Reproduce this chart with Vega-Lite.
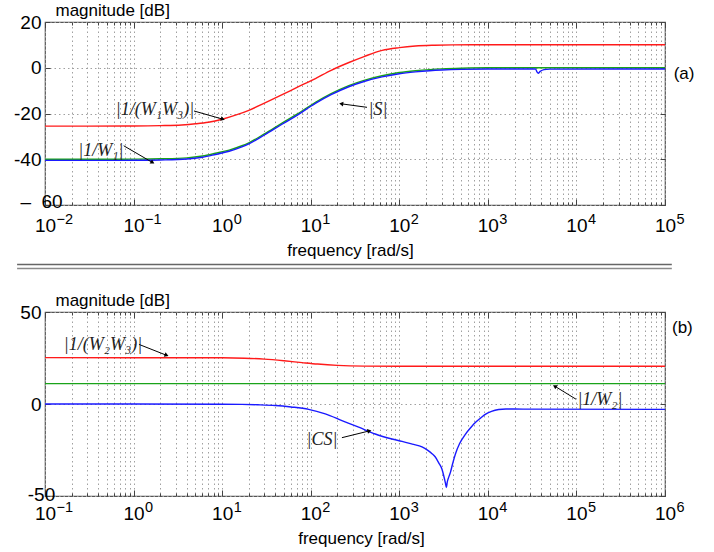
{
  "$schema": "https://vega.github.io/schema/vega-lite/v6.json",
  "background": "white",
  "padding": {"left": 12, "top": 0, "right": 0, "bottom": 0},
  "spacing": 43.5,
  "bounds": "flush",
  "resolve": {"scale": {"color": "independent"}},
  "config": {
    "font": "Liberation Sans",
    "view": {"stroke": "#555555", "strokeWidth": 1.2},
    "axis": {
      "labelFont": "Liberation Sans", "labelColor": "#000000", "labelFontSize": 19,
      "titleFont": "Liberation Sans", "titleFontSize": 17, "titleFontWeight": "normal", "titleColor": "#000000",
      "domain": false, "gridColor": "#a0a0a0", "gridDash": [1.5, 3], "gridWidth": 1,
      "tickColor": "#444444", "tickWidth": 1, "labelOverlap": false, "labelBound": false, "labelFlush": false
    },
    "text": {"font": "Liberation Serif", "fontSize": 18}
  },
  "datasets": {
    "curvesA": [
      {"s": "W1W3", "w": 0.01, "v": -25.5}, {"s": "W1W3", "w": 0.03, "v": -25.5}, {"s": "W1W3", "w": 0.1, "v": -25.45},
      {"s": "W1W3", "w": 0.2, "v": -25.3}, {"s": "W1W3", "w": 0.35, "v": -25.0}, {"s": "W1W3", "w": 0.5, "v": -24.5},
      {"s": "W1W3", "w": 0.7, "v": -23.8}, {"s": "W1W3", "w": 1, "v": -22.5}, {"s": "W1W3", "w": 1.5, "v": -20.4},
      {"s": "W1W3", "w": 2, "v": -18.6}, {"s": "W1W3", "w": 3, "v": -15.5}, {"s": "W1W3", "w": 4.7, "v": -11.9},
      {"s": "W1W3", "w": 7, "v": -8.6}, {"s": "W1W3", "w": 11.3, "v": -4.7}, {"s": "W1W3", "w": 17, "v": -1.1},
      {"s": "W1W3", "w": 27, "v": 2.3}, {"s": "W1W3", "w": 40, "v": 4.9}, {"s": "W1W3", "w": 64, "v": 7.6},
      {"s": "W1W3", "w": 100, "v": 8.8}, {"s": "W1W3", "w": 152, "v": 9.5}, {"s": "W1W3", "w": 250, "v": 9.85},
      {"s": "W1W3", "w": 400, "v": 10.0}, {"s": "W1W3", "w": 1000, "v": 10.05}, {"s": "W1W3", "w": 100000, "v": 10.05},
      {"s": "W1", "w": 0.01, "v": -40}, {"s": "W1", "w": 0.05, "v": -40}, {"s": "W1", "w": 0.1, "v": -39.95},
      {"s": "W1", "w": 0.2, "v": -39.8}, {"s": "W1", "w": 0.4, "v": -39.4}, {"s": "W1", "w": 0.6, "v": -38.6},
      {"s": "W1", "w": 0.84, "v": -37.4}, {"s": "W1", "w": 1.2, "v": -36.0}, {"s": "W1", "w": 1.67, "v": -34.1},
      {"s": "W1", "w": 2, "v": -32.8}, {"s": "W1", "w": 3, "v": -28.9}, {"s": "W1", "w": 4.74, "v": -24.2},
      {"s": "W1", "w": 7, "v": -20.3}, {"s": "W1", "w": 11.3, "v": -15.1}, {"s": "W1", "w": 17, "v": -11.3},
      {"s": "W1", "w": 26.9, "v": -7.8}, {"s": "W1", "w": 40, "v": -5.5}, {"s": "W1", "w": 63.8, "v": -3.5},
      {"s": "W1", "w": 100, "v": -2.1}, {"s": "W1", "w": 152, "v": -1.3}, {"s": "W1", "w": 220, "v": -0.8},
      {"s": "W1", "w": 303, "v": -0.5}, {"s": "W1", "w": 500, "v": -0.2}, {"s": "W1", "w": 1000, "v": 0},
      {"s": "W1", "w": 100000, "v": 0},
      {"s": "S", "w": 0.01, "v": -40.5}, {"s": "S", "w": 0.05, "v": -40.5}, {"s": "S", "w": 0.1, "v": -40.45},
      {"s": "S", "w": 0.2, "v": -40.3}, {"s": "S", "w": 0.4, "v": -39.9}, {"s": "S", "w": 0.6, "v": -39.1},
      {"s": "S", "w": 0.84, "v": -37.9}, {"s": "S", "w": 1.2, "v": -36.5}, {"s": "S", "w": 1.67, "v": -34.6},
      {"s": "S", "w": 2, "v": -33.3}, {"s": "S", "w": 3, "v": -29.4}, {"s": "S", "w": 4.74, "v": -24.7},
      {"s": "S", "w": 7, "v": -20.8}, {"s": "S", "w": 11.3, "v": -15.6}, {"s": "S", "w": 17, "v": -11.8},
      {"s": "S", "w": 26.9, "v": -8.3}, {"s": "S", "w": 40, "v": -6.0}, {"s": "S", "w": 63.8, "v": -4.0},
      {"s": "S", "w": 100, "v": -2.6}, {"s": "S", "w": 152, "v": -1.8}, {"s": "S", "w": 220, "v": -1.3},
      {"s": "S", "w": 303, "v": -1.0}, {"s": "S", "w": 500, "v": -0.7}, {"s": "S", "w": 1000, "v": -0.55},
      {"s": "S", "w": 3450, "v": -0.55}, {"s": "S", "w": 3600, "v": -1.9}, {"s": "S", "w": 3700, "v": -2.4},
      {"s": "S", "w": 3900, "v": -1.6}, {"s": "S", "w": 4300, "v": -0.8}, {"s": "S", "w": 5000, "v": -0.6},
      {"s": "S", "w": 100000, "v": -0.55}
    ],
    "curvesB": [
      {"s": "W2W3", "w": 0.1, "v": 25.2}, {"s": "W2W3", "w": 10, "v": 25.1}, {"s": "W2W3", "w": 18, "v": 24.9},
      {"s": "W2W3", "w": 30, "v": 24.4}, {"s": "W2W3", "w": 50, "v": 23.5}, {"s": "W2W3", "w": 80, "v": 22.5},
      {"s": "W2W3", "w": 120, "v": 21.7}, {"s": "W2W3", "w": 200, "v": 21.0}, {"s": "W2W3", "w": 400, "v": 20.6},
      {"s": "W2W3", "w": 1000, "v": 20.5}, {"s": "W2W3", "w": 1000000, "v": 20.5},
      {"s": "W2", "w": 0.1, "v": 11.1}, {"s": "W2", "w": 1000000, "v": 11.1},
      {"s": "CS", "w": 0.1, "v": 0}, {"s": "CS", "w": 1, "v": 0}, {"s": "CS", "w": 10, "v": -0.1},
      {"s": "CS", "w": 16.7, "v": -0.2}, {"s": "CS", "w": 25, "v": -0.4}, {"s": "CS", "w": 39.8, "v": -0.8},
      {"s": "CS", "w": 60, "v": -1.6}, {"s": "CS", "w": 94.8, "v": -2.9}, {"s": "CS", "w": 146, "v": -5.4},
      {"s": "CS", "w": 225, "v": -9.0}, {"s": "CS", "w": 348, "v": -12.6}, {"s": "CS", "w": 535, "v": -16.3},
      {"s": "CS", "w": 827, "v": -19.0}, {"s": "CS", "w": 1074, "v": -20.3}, {"s": "CS", "w": 1400, "v": -21.8},
      {"s": "CS", "w": 1806, "v": -23.3}, {"s": "CS", "w": 2100, "v": -25.2}, {"s": "CS", "w": 2344, "v": -27.0},
      {"s": "CS", "w": 2553, "v": -28.8}, {"s": "CS", "w": 2788, "v": -32.0}, {"s": "CS", "w": 3034, "v": -35.5},
      {"s": "CS", "w": 3175, "v": -39.0}, {"s": "CS", "w": 3320, "v": -43.0}, {"s": "CS", "w": 3400, "v": -45.4},
      {"s": "CS", "w": 3480, "v": -42.5}, {"s": "CS", "w": 3600, "v": -40.0}, {"s": "CS", "w": 3770, "v": -37.3},
      {"s": "CS", "w": 4000, "v": -32.5}, {"s": "CS", "w": 4294, "v": -27.3}, {"s": "CS", "w": 4800, "v": -21.5},
      {"s": "CS", "w": 5570, "v": -16.5}, {"s": "CS", "w": 6500, "v": -12.5}, {"s": "CS", "w": 7220, "v": -10.1},
      {"s": "CS", "w": 8300, "v": -7.6}, {"s": "CS", "w": 9350, "v": -5.6}, {"s": "CS", "w": 11000, "v": -4.0},
      {"s": "CS", "w": 13240, "v": -3.0}, {"s": "CS", "w": 16000, "v": -2.7}, {"s": "CS", "w": 25000, "v": -2.8},
      {"s": "CS", "w": 1000000, "v": -2.9}
    ],
    "notesA": [
      {"id": "n1", "label": "|1/(W₁W₃)|", "w": 0.1746, "v": -18.5, "ws": 0.481, "vs": -18.9, "we": 1.0, "ve": -22.4},
      {"id": "n2", "label": "|1/W₁|", "w": 0.0428, "v": -36.4, "ws": 0.0774, "vs": -34.1, "we": 0.1615, "ve": -41.3},
      {"id": "n3", "label": "|S|", "w": 57.5, "v": -18.5, "ws": 43.2, "vs": -17.3, "we": 22.5, "ve": -15.8}
    ],
    "notesB": [
      {"id": "m1", "label": "|1/(W₂W₃)|", "w": 0.452, "v": 32.2, "ws": 1.15, "vs": 32.4, "we": 2.32, "ve": 26.6},
      {"id": "m2", "label": "|1/W₂|", "w": 184500, "v": 2.1, "ws": 98900, "vs": 2.6, "we": 57800, "ve": 9.5},
      {"id": "m3", "label": "|CS|", "w": 134, "v": -19.7, "ws": 225, "vs": -18.3, "we": 452, "ve": -14.7}
    ],
    "expA": [
      {"w": 0.01, "e": "−2"}, {"w": 0.1, "e": "−1"}, {"w": 1, "e": "0"}, {"w": 10, "e": "1"},
      {"w": 100, "e": "2"}, {"w": 1000, "e": "3"}, {"w": 10000, "e": "4"}, {"w": 100000, "e": "5"}
    ],
    "expB": [
      {"w": 0.1, "e": "−1"}, {"w": 1, "e": "0"}, {"w": 10, "e": "1"}, {"w": 100, "e": "2"},
      {"w": 1000, "e": "3"}, {"w": 10000, "e": "4"}, {"w": 100000, "e": "5"}, {"w": 1000000, "e": "6"}
    ]
  },
  "vconcat": [
    {
      "width": 620,
      "height": 183,
      "layer": [
        {
          "data": {"name": "curvesA"},
          "mark": {"type": "line", "strokeWidth": 1.4, "interpolate": "monotone"},
          "encoding": {
            "x": {
              "field": "w", "type": "quantitative",
              "scale": {"type": "log", "domain": [0.01, 100000], "nice": false},
              "axis": {
                "orient": "bottom",
                "values": [0.01,0.02,0.03,0.04,0.05,0.06,0.07,0.08,0.09,0.1,0.2,0.3,0.4,0.5,0.6,0.7,0.8,0.9,1,2,3,4,5,6,7,8,9,10,20,30,40,50,60,70,80,90,100,200,300,400,500,600,700,800,900,1000,2000,3000,4000,5000,6000,7000,8000,9000,10000,20000,30000,40000,50000,60000,70000,80000,90000,100000],
                "grid": true,
                "ticks": true,
                "tickSize": {"condition": {"test": "abs(log(datum.value)/LN10 - round(log(datum.value)/LN10)) < 0.001", "value": -6}, "value": -3},
                "labelExpr": "abs(log(datum.value)/LN10 - round(log(datum.value)/LN10)) < 0.001 ? '10' : ''",
                "labelAlign": "center",
                "labelPadding": 17,
                "title": "frequency [rad/s]",
                "titleX": 305,
                "titlePadding": 4
              }
            },
            "y": {
              "field": "v", "type": "quantitative",
              "scale": {"domain": [-60, 20], "nice": false},
              "axis": {
                "orient": "left",
                "values": [-60, -40, -20, 0, 20],
                "grid": true,
                "ticks": true,
                "tickSize": -5,
                "labelExpr": "datum.value == -60 ? '–\u00a0\u00a060\u00a0\u00a0' : datum.value < 0 ? '-' + abs(datum.value) : '' + datum.value",
                "labelAlign": {"condition": {"test": "datum.value == -60", "value": "center"}, "value": "right"},
                "labelOffset": {"condition": {"test": "datum.value == -60", "value": -3.5}, "value": 0},
                "labelPadding": 9,
                "labelBaseline": "middle",
                "title": "magnitude [dB]",
                "titleAngle": 0,
                "titleAlign": "left",
                "titleBaseline": "alphabetic",
                "titleX": 10,
                "titleY": -7
              }
            },
            "color": {"field": "s", "type": "nominal", "scale": {"domain": ["W1W3", "W1", "S"], "range": ["#ff1a1a", "#1aa31a", "#1a1aff"]}, "legend": null}
          }
        },
        {
          "data": {"name": "notesA"},
          "mark": {"type": "rule", "color": "#000000", "strokeWidth": 1},
          "encoding": {
            "x": {
              "field": "ws", "type": "quantitative",
              "axis": {
                "orient": "top",
                "values": [0.01,0.02,0.03,0.04,0.05,0.06,0.07,0.08,0.09,0.1,0.2,0.3,0.4,0.5,0.6,0.7,0.8,0.9,1,2,3,4,5,6,7,8,9,10,20,30,40,50,60,70,80,90,100,200,300,400,500,600,700,800,900,1000,2000,3000,4000,5000,6000,7000,8000,9000,10000,20000,30000,40000,50000,60000,70000,80000,90000,100000],
                "grid": false, "labels": false, "title": null,
                "tickSize": {"condition": {"test": "abs(log(datum.value)/LN10 - round(log(datum.value)/LN10)) < 0.001", "value": -6}, "value": -3}
              }
            },
            "y": {
              "field": "vs", "type": "quantitative",
              "axis": {"orient": "right", "values": [-60, -40, -20, 0, 20], "grid": false, "labels": false, "title": null, "tickSize": -5}
            },
            "x2": {"field": "we"},
            "y2": {"field": "ve"}
          }
        },
        {
          "data": {"name": "notesA"},
          "mark": {"type": "text", "fontStyle": "italic", "align": "center", "baseline": "middle", "color": "#222222"},
          "encoding": {
            "x": {"field": "w", "type": "quantitative", "axis": null},
            "y": {"field": "v", "type": "quantitative", "axis": null},
            "text": {"field": "label"}
          }
        },
        {
          "data": {"name": "notesA"},
          "transform": [{"filter": "datum.id == 'n1'"}],
          "mark": {"type": "point", "shape": "triangle", "filled": true, "color": "#000000", "size": 22, "angle": 106, "opacity": 1},
          "encoding": {"x": {"field": "we", "type": "quantitative", "axis": null}, "y": {"field": "ve", "type": "quantitative", "axis": null}}
        },
        {
          "data": {"name": "notesA"},
          "transform": [{"filter": "datum.id == 'n2'"}],
          "mark": {"type": "point", "shape": "triangle", "filled": true, "color": "#000000", "size": 22, "angle": 121, "opacity": 1},
          "encoding": {"x": {"field": "we", "type": "quantitative", "axis": null}, "y": {"field": "ve", "type": "quantitative", "axis": null}}
        },
        {
          "data": {"name": "notesA"},
          "transform": [{"filter": "datum.id == 'n3'"}],
          "mark": {"type": "point", "shape": "triangle", "filled": true, "color": "#000000", "size": 22, "angle": 277, "opacity": 1},
          "encoding": {"x": {"field": "we", "type": "quantitative", "axis": null}, "y": {"field": "ve", "type": "quantitative", "axis": null}}
        },
        {
          "data": {"name": "expA"},
          "mark": {"type": "text", "font": "Liberation Sans", "fontSize": 14.5, "align": "left", "baseline": "top", "dx": 11.5, "dy": 8, "color": "#000000"},
          "encoding": {
            "x": {"field": "w", "type": "quantitative", "axis": null},
            "y": {"datum": -60, "type": "quantitative", "axis": null},
            "text": {"field": "e"}
          }
        },
        {
          "data": {"values": [{"tag": "(a)", "w": 100000, "v": -2.7}]},
          "mark": {"type": "text", "font": "Liberation Sans", "fontSize": 17, "align": "left", "baseline": "middle", "dx": 8.7, "color": "#000000"},
          "encoding": {
            "x": {"field": "w", "type": "quantitative", "axis": null},
            "y": {"field": "v", "type": "quantitative", "axis": null},
            "text": {"field": "tag"}
          }
        }
      ],
      "resolve": {"axis": {"x": "independent", "y": "independent"}}
    },
    {
      "width": 620,
      "height": 20,
      "view": {"stroke": null},
      "data": {"values": [{"line": "upper", "level": 1}, {"line": "lower", "level": 0}]},
      "mark": {"type": "rule", "strokeWidth": 1.3},
      "encoding": {
        "y": {"field": "level", "type": "quantitative", "scale": {"domain": [0, 5], "nice": false, "zero": false}, "axis": null},
        "x": {"datum": -0.045, "type": "quantitative", "scale": {"domain": [0, 1], "nice": false, "zero": false}, "axis": null},
        "x2": {"datum": 1.011},
        "color": {"field": "line", "type": "nominal", "scale": {"domain": ["upper", "lower"], "range": ["#666666", "#8a8a8a"]}, "legend": null}
      }
    },
    {
      "width": 620,
      "height": 184,
      "layer": [
        {
          "data": {"name": "curvesB"},
          "mark": {"type": "line", "strokeWidth": 1.4, "interpolate": "monotone"},
          "encoding": {
            "x": {
              "field": "w", "type": "quantitative",
              "scale": {"type": "log", "domain": [0.1, 1000000], "nice": false},
              "axis": {
                "orient": "bottom",
                "values": [0.1,0.2,0.3,0.4,0.5,0.6,0.7,0.8,0.9,1,2,3,4,5,6,7,8,9,10,20,30,40,50,60,70,80,90,100,200,300,400,500,600,700,800,900,1000,2000,3000,4000,5000,6000,7000,8000,9000,10000,20000,30000,40000,50000,60000,70000,80000,90000,100000,200000,300000,400000,500000,600000,700000,800000,900000,1000000],
                "grid": true,
                "ticks": true,
                "tickSize": {"condition": {"test": "abs(log(datum.value)/LN10 - round(log(datum.value)/LN10)) < 0.001", "value": -6}, "value": -3},
                "labelExpr": "abs(log(datum.value)/LN10 - round(log(datum.value)/LN10)) < 0.001 ? '10' : ''",
                "labelAlign": "center",
                "labelPadding": 14,
                "title": "frequency [rad/s]",
                "titleX": 316,
                "titlePadding": 4
              }
            },
            "y": {
              "field": "v", "type": "quantitative",
              "scale": {"domain": [-50, 50], "nice": false},
              "axis": {
                "orient": "left",
                "values": [-50, 0, 50],
                "grid": true,
                "ticks": true,
                "tickSize": -5,
                "labelExpr": "datum.value == -50 ? '-50\u00a0\u00a0' : '' + datum.value",
                "labelAlign": {"condition": {"test": "datum.value == -50", "value": "center"}, "value": "right"},
                "labelOffset": {"condition": {"test": "datum.value == -50", "value": -2}, "value": 0},
                "labelPadding": 9,
                "labelBaseline": "middle",
                "title": "magnitude [dB]",
                "titleAngle": 0,
                "titleAlign": "left",
                "titleBaseline": "alphabetic",
                "titleX": 10,
                "titleY": -7
              }
            },
            "color": {"field": "s", "type": "nominal", "scale": {"domain": ["W2W3", "W2", "CS"], "range": ["#ff1a1a", "#1aa31a", "#1a1aff"]}, "legend": null}
          }
        },
        {
          "data": {"name": "notesB"},
          "mark": {"type": "rule", "color": "#000000", "strokeWidth": 1},
          "encoding": {
            "x": {
              "field": "ws", "type": "quantitative",
              "axis": {
                "orient": "top",
                "values": [0.1,0.2,0.3,0.4,0.5,0.6,0.7,0.8,0.9,1,2,3,4,5,6,7,8,9,10,20,30,40,50,60,70,80,90,100,200,300,400,500,600,700,800,900,1000,2000,3000,4000,5000,6000,7000,8000,9000,10000,20000,30000,40000,50000,60000,70000,80000,90000,100000,200000,300000,400000,500000,600000,700000,800000,900000,1000000],
                "grid": false, "labels": false, "title": null,
                "tickSize": {"condition": {"test": "abs(log(datum.value)/LN10 - round(log(datum.value)/LN10)) < 0.001", "value": -6}, "value": -3}
              }
            },
            "y": {
              "field": "vs", "type": "quantitative",
              "axis": {"orient": "right", "values": [-50, 0, 50], "grid": false, "labels": false, "title": null, "tickSize": -5}
            },
            "x2": {"field": "we"},
            "y2": {"field": "ve"}
          }
        },
        {
          "data": {"name": "notesB"},
          "mark": {"type": "text", "fontStyle": "italic", "align": "center", "baseline": "middle", "color": "#222222"},
          "encoding": {
            "x": {"field": "w", "type": "quantitative", "axis": null},
            "y": {"field": "v", "type": "quantitative", "axis": null},
            "text": {"field": "label"}
          }
        },
        {
          "data": {"name": "notesB"},
          "transform": [{"filter": "datum.id == 'm1'"}],
          "mark": {"type": "point", "shape": "triangle", "filled": true, "color": "#000000", "size": 22, "angle": 112, "opacity": 1},
          "encoding": {"x": {"field": "we", "type": "quantitative", "axis": null}, "y": {"field": "ve", "type": "quantitative", "axis": null}}
        },
        {
          "data": {"name": "notesB"},
          "transform": [{"filter": "datum.id == 'm2'"}],
          "mark": {"type": "point", "shape": "triangle", "filled": true, "color": "#000000", "size": 22, "angle": 301, "opacity": 1},
          "encoding": {"x": {"field": "we", "type": "quantitative", "axis": null}, "y": {"field": "ve", "type": "quantitative", "axis": null}}
        },
        {
          "data": {"name": "notesB"},
          "transform": [{"filter": "datum.id == 'm3'"}],
          "mark": {"type": "point", "shape": "triangle", "filled": true, "color": "#000000", "size": 22, "angle": 76, "opacity": 1},
          "encoding": {"x": {"field": "we", "type": "quantitative", "axis": null}, "y": {"field": "ve", "type": "quantitative", "axis": null}}
        },
        {
          "data": {"name": "expB"},
          "mark": {"type": "text", "font": "Liberation Sans", "fontSize": 14.5, "align": "left", "baseline": "top", "dx": 11.5, "dy": 5, "color": "#000000"},
          "encoding": {
            "x": {"field": "w", "type": "quantitative", "axis": null},
            "y": {"datum": -50, "type": "quantitative", "axis": null},
            "text": {"field": "e"}
          }
        },
        {
          "data": {"values": [{"tag": "(b)", "w": 1000000, "v": 41.1}]},
          "mark": {"type": "text", "font": "Liberation Sans", "fontSize": 17, "align": "left", "baseline": "middle", "dx": 7, "color": "#000000"},
          "encoding": {
            "x": {"field": "w", "type": "quantitative", "axis": null},
            "y": {"field": "v", "type": "quantitative", "axis": null},
            "text": {"field": "tag"}
          }
        }
      ],
      "resolve": {"axis": {"x": "independent", "y": "independent"}}
    }
  ]
}
